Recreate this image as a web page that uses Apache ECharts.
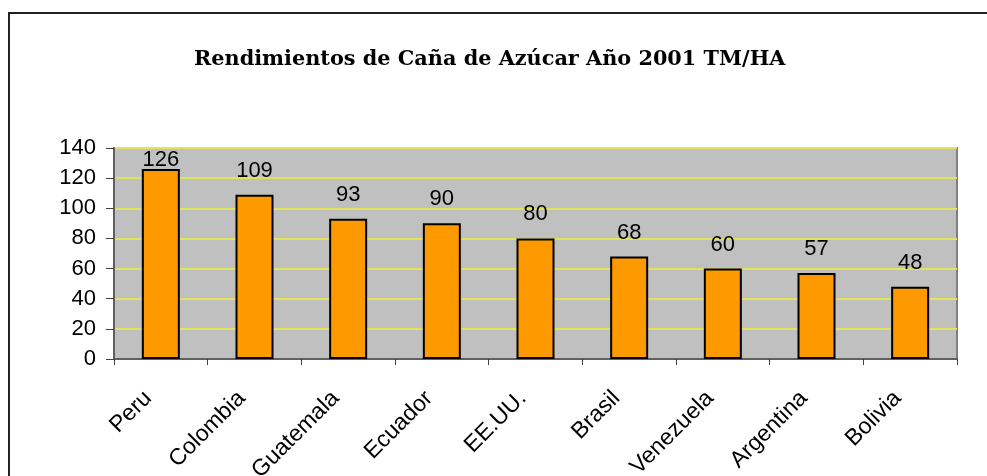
<!DOCTYPE html>
<html>
<head>
<meta charset="utf-8">
<script src="https://cdn.jsdelivr.net/npm/echarts@6/dist/echarts.min.js"></script>
<style>
  html, body { margin: 0; padding: 0; background: #fff; }
  #chart { width: 987px; height: 476px; }
</style>
</head>
<body>
<div id="chart"></div>
<script>
// data
var countries = ['Peru', 'Colombia', 'Guatemala', 'Ecuador', 'EE.UU.', 'Brasil', 'Venezuela', 'Argentina', 'Bolivia'];
var yields = [126, 109, 93, 90, 80, 68, 60, 57, 48];
var yTicks = [0, 20, 40, 60, 80, 100, 120, 140];

var chart = echarts.init(document.getElementById('chart'));

var yMax = yTicks[yTicks.length - 1];
var barData = yields.map(function (v) {
  // Excel pushes the label down when it would leave the plot area
  if (v > yMax - 18) {
    return { value: v, label: { distance: -2 } };
  }
  return v;
});

chart.setOption({
  backgroundColor: '#fff',
  animation: false,
  title: {
    text: 'Rendimientos de Caña de Azúcar Año 2001 TM/HA',
    left: 189,
    top: 44,
    textStyle: {
      fontFamily: 'DejaVu Serif',
      fontWeight: 'bold',
      fontSize: 20.8,
      color: '#000'
    }
  },
  grid: {
    left: 114,
    right: 30,
    top: 148,
    bottom: 117,
    outerBoundsMode: 'none',
    containLabel: false,
    show: true,
    backgroundColor: '#C0C0C0',
    borderColor: '#808080',
    borderWidth: 2
  },
  xAxis: {
    type: 'category',
    data: countries,
    axisLine: { lineStyle: { color: '#606060', width: 2 } },
    axisTick: { show: true, length: 6, lineStyle: { color: '#404040' } },
    axisLabel: {
      rotate: 45,
      margin: 23,
      padding: [0, 18, 0, 0],
      fontFamily: 'Liberation Sans',
      fontSize: 23,
      color: '#000',
      interval: 0
    }
  },
  yAxis: {
    type: 'value',
    min: yTicks[0],
    max: yMax,
    interval: 20,
    axisLine: { show: true, lineStyle: { color: '#606060', width: 2 } },
    axisTick: { show: true, length: 8, lineStyle: { color: '#404040' } },
    axisLabel: {
      margin: 18,
      fontFamily: 'Liberation Sans',
      fontSize: 22,
      color: '#000'
    },
    splitLine: { lineStyle: { color: '#E3E35A', width: 2 } }
  },
  series: [
    {
      name: 'TM/HA',
      type: 'bar',
      data: barData,
      barWidth: 38,
      itemStyle: {
        color: '#FF9900',
        borderColor: '#000',
        borderWidth: 2
      },
      label: {
        show: true,
        position: 'top',
        distance: 13,
        fontFamily: 'Liberation Sans',
        fontSize: 22,
        color: '#000'
      }
    }
  ],
  graphic: [
    {
      type: 'rect',
      shape: { x: 9, y: 13, width: 1100, height: 600 },
      style: { fill: null, stroke: '#222', lineWidth: 2 },
      silent: true
    }
  ]
});
</script>
</body>
</html>
